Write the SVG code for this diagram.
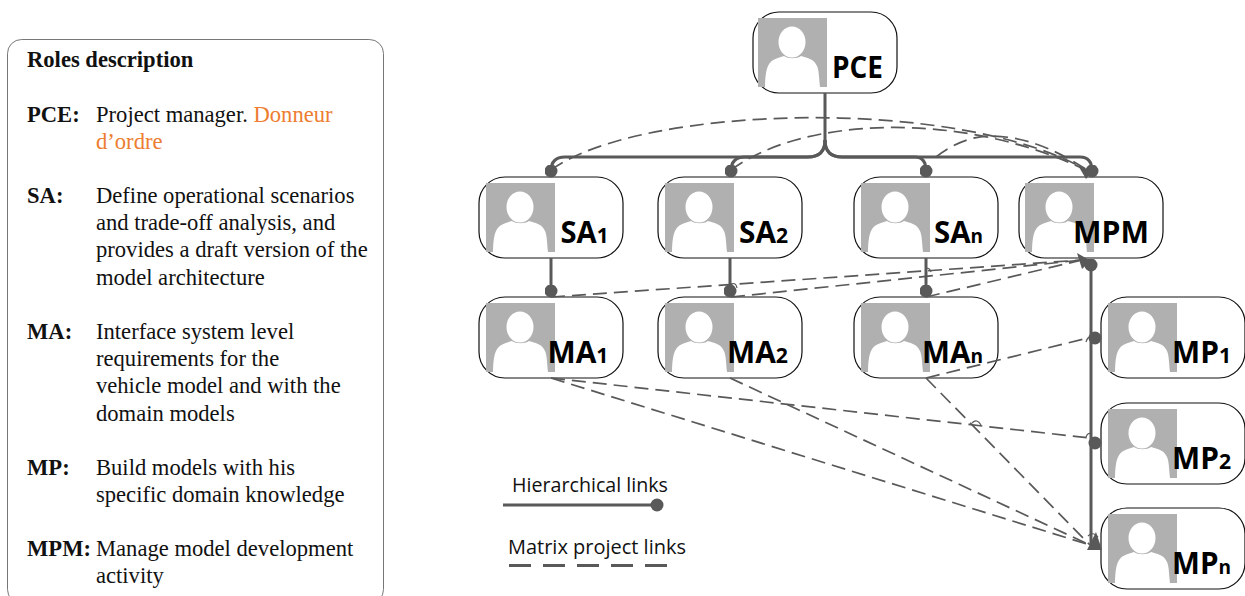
<svg xmlns="http://www.w3.org/2000/svg" width="1245" height="596" viewBox="0 0 1245 596">
<style>
.box{fill:#fff;stroke:#111;stroke-width:1.2}
.lab{font-family:"Open Sans","Noto Sans",sans-serif;font-weight:700;font-size:31px;fill:#000}
.sub{font-size:22px}
.subn{font-size:20px}
.h{fill:none;stroke:#595959;stroke-width:3}
.m{fill:none;stroke:#595959;stroke-width:1.7;stroke-dasharray:14 7}
.j{fill:none;stroke:#595959;stroke-width:1.2}
.d{fill:#595959}
.t{font-family:"Liberation Serif",serif;font-size:22.6px;fill:#111}
.b{font-weight:700}
.o{fill:#ed7d31}
.leg{font-family:"Open Sans","Noto Sans",sans-serif;font-size:20px;fill:#111}
</style>
<defs>
<g id="av">
<rect width="69" height="69" fill="#b0b0b0"/>
<path d="M7 69C7 60 8 52 10 48C13 41 20 40 26 38C30 41 39 41 43 38C50 40 56 41 59 48C61 52 61 60 62 69Z" fill="#fff"/>
<ellipse cx="34" cy="24" rx="13.500" ry="15.500" fill="#fff"/>
</g>
<marker id="dot" viewBox="0 0 10 10" refX="5" refY="5" markerWidth="13" markerHeight="13" markerUnits="userSpaceOnUse"><circle cx="5" cy="5" r="5" fill="#595959"/></marker>
</defs>
<g id="roles">
<rect x="7.500" y="39.500" width="376" height="564" rx="14" fill="#fff" stroke="#777" stroke-width="1"/>
<text class="t b" x="27" y="67">Roles description</text>
<text class="t b" x="27" y="122">PCE:</text>
<text class="t" x="96" y="122">Project manager. <tspan class="o">Donneur</tspan></text>
<text class="t o" x="96" y="149">d’ordre</text>
<text class="t b" x="27" y="203">SA:</text>
<text class="t" x="96" y="203">Define operational scenarios</text>
<text class="t" x="96" y="230">and trade-off analysis, and</text>
<text class="t" x="96" y="257">provides a draft version of the</text>
<text class="t" x="96" y="285">model architecture</text>
<text class="t b" x="27" y="339">MA:</text>
<text class="t" x="96" y="339">Interface system level</text>
<text class="t" x="96" y="366">requirements for the</text>
<text class="t" x="96" y="393">vehicle model and with the</text>
<text class="t" x="96" y="421">domain models</text>
<text class="t b" x="27" y="475">MP:</text>
<text class="t" x="96" y="475">Build models with his</text>
<text class="t" x="96" y="502">specific domain knowledge</text>
<text class="t b" x="27" y="556">MPM:</text>
<text class="t" x="96" y="556">Manage model development</text>
<text class="t" x="96" y="583">activity</text>
</g>
<g id="PCE"><rect class="box" x="753" y="12" width="144" height="81" rx="26"/><use href="#av" x="758" y="18"/><text class="lab" x="832" y="78" textLength="51" lengthAdjust="spacingAndGlyphs">PCE</text></g>
<g id="SA1"><rect class="box" x="479" y="177" width="144" height="81" rx="26"/><use href="#av" x="486" y="183"/><text class="lab" x="560.500" y="243" textLength="48" lengthAdjust="spacingAndGlyphs">SA<tspan class="sub">1</tspan></text></g>
<g id="SA2"><rect class="box" x="658" y="177" width="144" height="81" rx="26"/><use href="#av" x="665" y="183"/><text class="lab" x="739" y="243" textLength="49" lengthAdjust="spacingAndGlyphs">SA<tspan class="sub">2</tspan></text></g>
<g id="SAn"><rect class="box" x="854" y="177" width="144" height="81" rx="26"/><use href="#av" x="861" y="183"/><text class="lab" x="934" y="243" textLength="49" lengthAdjust="spacingAndGlyphs">SA<tspan class="subn">n</tspan></text></g>
<g id="MPM"><rect class="box" x="1019" y="177" width="144" height="81" rx="26"/><use href="#av" x="1025" y="183"/><text class="lab" x="1073" y="243" textLength="76" lengthAdjust="spacingAndGlyphs">MPM</text></g>
<g id="MA1"><rect class="box" x="479" y="297" width="144" height="81" rx="26"/><use href="#av" x="486" y="303"/><text class="lab" x="547.500" y="363" textLength="61" lengthAdjust="spacingAndGlyphs">MA<tspan class="sub">1</tspan></text></g>
<g id="MA2"><rect class="box" x="658" y="297" width="144" height="81" rx="26"/><use href="#av" x="665" y="303"/><text class="lab" x="727" y="363" textLength="61" lengthAdjust="spacingAndGlyphs">MA<tspan class="sub">2</tspan></text></g>
<g id="MAn"><rect class="box" x="854" y="297" width="144" height="81" rx="26"/><use href="#av" x="861" y="303"/><text class="lab" x="922" y="363" textLength="61" lengthAdjust="spacingAndGlyphs">MA<tspan class="subn">n</tspan></text></g>
<g id="MP1"><rect class="box" x="1101" y="297" width="144" height="81" rx="26"/><use href="#av" x="1108" y="303"/><text class="lab" x="1172" y="363" textLength="59" lengthAdjust="spacingAndGlyphs">MP<tspan class="sub">1</tspan></text></g>
<g id="MP2"><rect class="box" x="1101" y="403" width="144" height="81" rx="26"/><use href="#av" x="1108" y="409"/><text class="lab" x="1172" y="468.500" textLength="59" lengthAdjust="spacingAndGlyphs">MP<tspan class="sub">2</tspan></text></g>
<g id="MPn"><rect class="box" x="1101" y="508" width="144" height="81" rx="26"/><use href="#av" x="1108" y="514"/><text class="lab" x="1172" y="573.500" textLength="59" lengthAdjust="spacingAndGlyphs">MP<tspan class="subn">n</tspan></text></g>
<g id="connectors">
<path class="h" d="M825 93V140Q825 157 808 157H565Q551 157 551 171" marker-end="url(#dot)"/>
<path class="h" d="M825 140Q825 157 808 157H745Q731 157 731 171" marker-end="url(#dot)"/>
<path class="h" d="M825 140Q825 157 842 157H915Q926 157 926 171" marker-end="url(#dot)"/>
<path class="h" d="M825 140Q825 157 842 157H1080Q1092 157 1092 171" marker-end="url(#dot)"/>
<path class="h" d="M551 258V291" marker-end="url(#dot)"/>
<path class="h" d="M730 258V291" marker-end="url(#dot)"/>
<path class="h" d="M926 258V291" marker-end="url(#dot)"/>
<path class="h" d="M1091 265V545" marker-start="url(#dot)"/>
<circle class="d" cx="1095" cy="338" r="6.500"/>
<circle class="d" cx="1095" cy="443" r="6.500"/>
<path class="d" d="M1087 550L1096 532L1102 550Z"/>
<path class="d" d="M1079 167L1092 172L1086 179Z"/>
<path class="d" d="M1077 253L1091 261L1082 269Z"/>
<path class="m" d="M551 170C640 105 960 95 1090 172"/>
<path class="m" d="M731 170C800 118 960 108 1090 172"/>
<path class="m" d="M936 157C955 142 975 136 990 136C1030 136 1065 155 1090 172"/>
<path class="m" d="M551 297L1082 260"/>
<path class="m" d="M731 297L1082 260"/>
<path class="m" d="M926 297L1082 260"/>
<path class="m" d="M926 378L1088 338"/>
<path class="m" d="M551 378L1090 438"/>
<path class="m" d="M551 378L1090 545"/>
<path class="m" d="M730 378L1090 545"/>
<path class="m" d="M926 378L1090 545"/>
<path class="j" d="M731 284Q736 282 737 288"/>
<path class="j" d="M926 268Q930 268 931 272"/>
<path class="j" d="M972 423Q977 418 981 425"/>
<path class="j" d="M1086 342Q1088 336 1090 338"/>
<path class="j" d="M1086 437Q1088 432 1091 434"/>
<path class="j" d="M1088 536Q1093 531 1098 537"/>
</g>
<g id="legend">
<text class="leg" x="512" y="492" textLength="156" lengthAdjust="spacingAndGlyphs">Hierarchical links</text>
<path class="h" d="M503 505H657"/>
<circle class="d" cx="657" cy="505" r="6.500"/>
<text class="leg" x="508" y="554" textLength="178" lengthAdjust="spacingAndGlyphs">Matrix project links</text>
<path d="M509 565.500H668" fill="none" stroke="#595959" stroke-width="3" stroke-dasharray="22 12"/>
</g>
</svg>
